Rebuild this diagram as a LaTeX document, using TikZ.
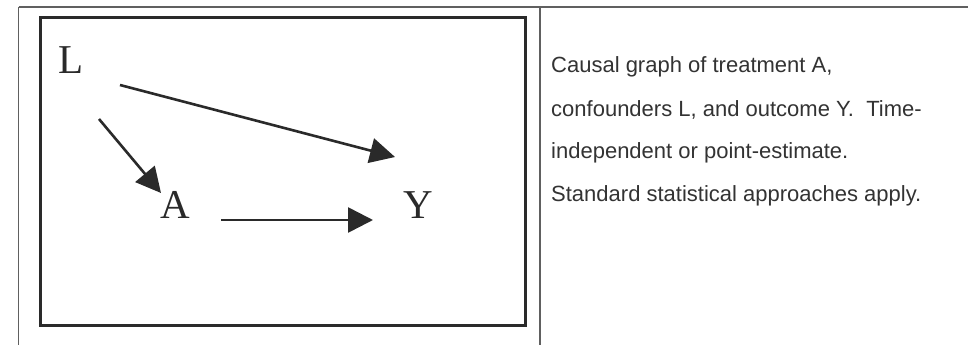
\documentclass[tikz,border=0pt]{standalone}
\usepackage{fontspec}
\setmainfont{Liberation Serif}
\newfontfamily\captionfont{Liberation Sans}
\usetikzlibrary{arrows.meta}
\definecolor{rulegray}{HTML}{606060}
\definecolor{boxgray}{HTML}{2A2A2A}
\definecolor{textgray}{HTML}{333333}
\begin{document}
\begin{tikzpicture}[x=1pt,y=-1pt,
  var/.style={inner sep=0pt, font=\fontsize{41}{41}\selectfont, text=boxgray},
  edge/.style={line width=2.6pt, draw=boxgray, -{Triangle[length=25pt,width=25pt]}},
  tablerule/.style={line width=1.6pt, draw=rulegray},
  caption/.style={anchor=west, inner sep=0pt, font=\captionfont\fontsize{22}{22}\selectfont, text=textgray}]
\useasboundingbox (0,0) rectangle (968,345);
\fill[white] (0,0) rectangle (968,345);
% table rules
\draw[tablerule] (18.5,7) -- (968,7);
\draw[tablerule] (18.5,7) -- (18.5,345);
\draw[tablerule] (540,7) -- (540,345);
% inner frame
\draw[line width=3pt, draw=boxgray] (40,18) rectangle (525,325);
% variables
\node[var] (L) at (71,60) {L};
\node[var] (A) at (175,205) {A};
\node[var] (Y) at (418,205) {Y};
% connectors
\coordinate (lys) at (120,85);
\coordinate (lye) at (395,157);
\coordinate (las) at (99,119);
\coordinate (lae) at (161,193);
\coordinate (ays) at (221,220);
\coordinate (aye) at (373,220);
\draw[edge] (lys) -- (lye);
\draw[edge] (las) -- (lae);
\draw[edge] (ays) -- (aye);
% caption
\node[caption] (c1) at (551,67) {Causal graph of treatment A,};
\node[caption] (c2) at (551,110) {confounders L, and outcome Y.\ \ Time-};
\node[caption] (c3) at (551,153) {independent or point-estimate.};
\node[caption] (c4) at (551,196) {Standard statistical approaches apply.};
\end{tikzpicture}
\end{document}
